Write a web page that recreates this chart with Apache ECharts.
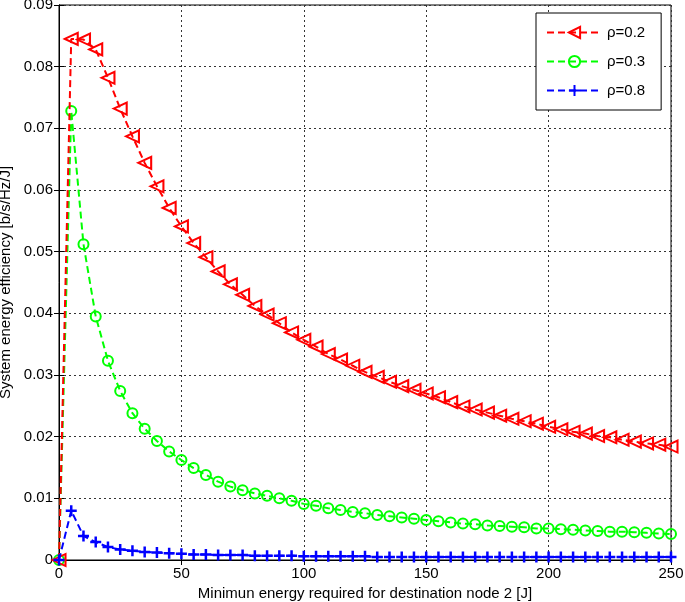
<!DOCTYPE html>
<html>
<head>
<meta charset="utf-8">
<script src="https://cdn.jsdelivr.net/npm/echarts@6/dist/echarts.min.js"></script>
<style>
html,body{margin:0;padding:0;background:#fff;}
#c{width:685px;height:602px;}
</style>
</head>
<body>
<div id="c"></div>
<script>
var xValues = [0,5,10,15,20,25,30,35,40,45,50,55,60,65,70,75,80,85,90,95,100,105,110,115,120,125,130,135,140,145,150,155,160,165,170,175,180,185,190,195,200,205,210,215,220,225,230,235,240,245,250];
var rho02 = [0,0.0845,0.0844,0.0828,0.0782,0.0732,0.0687,0.0644,0.0606,0.0571,0.0541,0.0514,0.0491,0.0468,0.0447,0.0430,0.0412,0.0398,0.0384,0.0369,0.0357,0.0346,0.0334,0.0325,0.0315,0.0305,0.0297,0.0289,0.0282,0.0276,0.0270,0.0264,0.0256,0.0249,0.0244,0.0239,0.0234,0.0229,0.0225,0.0221,0.0216,0.0212,0.0208,0.0205,0.0201,0.0199,0.0195,0.0192,0.0189,0.0187,0.0184];
var rho03 = [0,0.0728,0.0512,0.0395,0.0323,0.0274,0.0238,0.0213,0.0193,0.0176,0.0162,0.0149,0.0138,0.0127,0.0119,0.0113,0.0108,0.0104,0.0100,0.0096,0.0091,0.0088,0.0084,0.0081,0.0078,0.0076,0.0073,0.0071,0.0069,0.0067,0.0065,0.0063,0.0061,0.0059,0.0058,0.0056,0.0055,0.0054,0.0053,0.0051,0.0051,0.0050,0.0049,0.0048,0.0047,0.0046,0.0046,0.0045,0.0044,0.0043,0.0042];
var rho08 = [0,0.0080,0.0039,0.0029,0.0021,0.0017,0.0015,0.0013,0.0012,0.0011,0.0010,0.0009,0.0009,0.0008,0.0008,0.0008,0.0007,0.0007,0.0007,0.0007,0.0006,0.0006,0.0006,0.0006,0.0006,0.0006,0.0005,0.0005,0.0005,0.0005,0.0005,0.0005,0.0005,0.0005,0.0005,0.0005,0.0005,0.0005,0.0005,0.0005,0.0005,0.0005,0.0005,0.0005,0.0005,0.0005,0.0005,0.0005,0.0005,0.0005,0.0005];
var seriesNames = ['\u03c1=0.2','\u03c1=0.3','\u03c1=0.8'];
var xTicks = [0,50,100,150,200,250];
var yTicks = [0,0.01,0.02,0.03,0.04,0.05,0.06,0.07,0.08,0.09];

function pairs(ys){ return xValues.map(function(x,i){ return [x, ys[i]]; }); }

var font = 'Liberation Sans, Arial, sans-serif';
var chart = echarts.init(document.getElementById('c'), null, {renderer:'canvas'});
var gridLine = {show:true, lineStyle:{color:'#333', type:[2,3], width:1}};
var plusPath = 'path://M5,0L5,10M0,5L10,5';

chart.setOption({
  animation:false,
  backgroundColor:'#fff',
  textStyle:{fontFamily:font},
  grid:{left:59, right:14, top:5, bottom:42, show:true, borderColor:'#000', borderWidth:1,
        containLabel:false, outerBoundsMode:'none'},
  legend:{
    left:536, top:13, orient:'vertical', itemWidth:55, itemHeight:14, itemGap:14,
    backgroundColor:'#fff', borderColor:'#000', borderWidth:1,
    padding:[12,16,12,10],
    textStyle:{fontFamily:font, fontSize:15, color:'#000'},
    data:seriesNames
  },
  xAxis:[{
    type:'value', min:xTicks[0], max:xTicks[xTicks.length-1], interval:50,
    name:'Minimun energy required for destination node 2 [J]', nameLocation:'middle', nameGap:25,
    nameTextStyle:{fontFamily:font, fontSize:15, color:'#000'},
    axisLine:{show:true, onZero:false, lineStyle:{color:'#000'}},
    axisTick:{show:true, inside:true, length:5, lineStyle:{color:'#000'}},
    axisLabel:{fontFamily:font, fontSize:15, color:'#000', margin:6},
    splitLine:gridLine
  },{
    type:'value', position:'top', min:0, max:250, interval:50,
    axisLine:{show:true, lineStyle:{color:'#000'}},
    axisTick:{show:true, inside:true, length:5, lineStyle:{color:'#000'}},
    axisLabel:{show:false}, splitLine:{show:false}
  }],
  yAxis:[{
    type:'value', min:yTicks[0], max:yTicks[yTicks.length-1], interval:0.01,
    name:'System energy efficiency [b/s/Hz/J]', nameLocation:'middle', nameGap:44,
    nameTextStyle:{fontFamily:font, fontSize:15, color:'#000'},
    axisLine:{show:true, onZero:false, lineStyle:{color:'#000'}},
    axisTick:{show:true, inside:true, length:5, lineStyle:{color:'#000'}},
    axisLabel:{fontFamily:font, fontSize:15, color:'#000', margin:6,
      formatter:function(v){ return String(+v.toFixed(2)); }},
    splitLine:gridLine
  },{
    type:'value', position:'right', min:0, max:0.09, interval:0.01,
    axisLine:{show:true, lineStyle:{color:'#000'}},
    axisTick:{show:true, inside:true, length:5, lineStyle:{color:'#000'}},
    axisLabel:{show:false}, splitLine:{show:false}
  }],
  series:[{
    name:seriesNames[0], type:'line', data:pairs(rho02),
    symbol:'triangle', symbolSize:[12,13], symbolRotate:90, showAllSymbol:true,
    lineStyle:{color:'#ff0000', width:2, type:[7,4]},
    itemStyle:{color:'rgba(255,255,255,0)', borderColor:'#ff0000', borderWidth:2},
    emphasis:{disabled:true}, z:3
  },{
    name:seriesNames[1], type:'line', data:pairs(rho03),
    symbol:'circle', symbolSize:10, showAllSymbol:true,
    lineStyle:{color:'#00ff00', width:2, type:[7,4]},
    itemStyle:{color:'rgba(255,255,255,0)', borderColor:'#00ff00', borderWidth:2},
    emphasis:{disabled:true}, z:2
  },{
    name:seriesNames[2], type:'line', data:pairs(rho08),
    symbol:plusPath, symbolSize:11, showAllSymbol:true,
    lineStyle:{color:'#0000ff', width:2, type:[7,4]},
    itemStyle:{color:'rgba(255,255,255,0)', borderColor:'#0000ff', borderWidth:2.5},
    emphasis:{disabled:true}, z:4
  }]
});
</script>
</body>
</html>
